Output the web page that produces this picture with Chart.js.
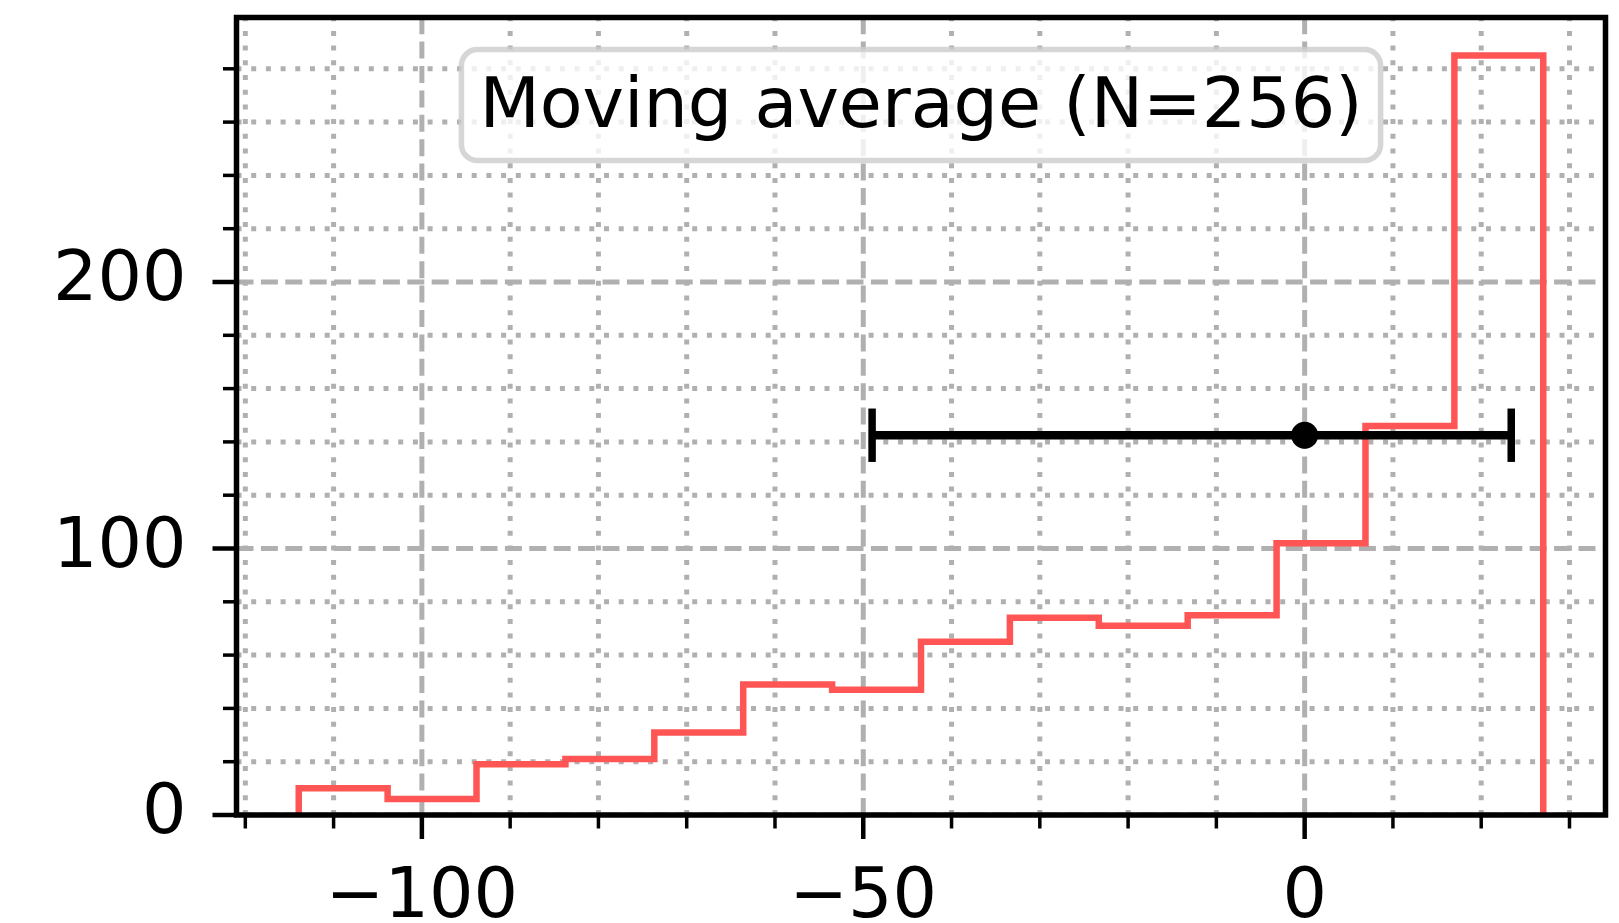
<!DOCTYPE html>
<html>
<head>
<meta charset="utf-8">
<script src="https://cdn.jsdelivr.net/npm/chart.js@4/dist/chart.umd.min.js"></script>
<style>
  html, body { margin: 0; padding: 0; background: #fff; }
  canvas { display: block; }
</style>
</head>
<body>
<canvas id="histChart" width="1619" height="923"></canvas>
<script>
// histogram bins (edges) and counts, drawn as a step outline
const binEdges = [-113.95, -103.88, -93.81, -83.74, -73.67, -63.60, -53.53, -43.46,
                  -33.39, -23.32, -13.25, -3.18, 6.89, 16.96, 27.03];
const binCounts = [10, 6, 19, 21, 31, 49, 47, 65, 74, 71, 75, 102, 146, 285];

// marker with asymmetric horizontal error bar
const errCenterX = [0];
const errCenterY = [142.5];
const errLeft = [49.0];
const errRight = [23.4];

const xMajorTicks = [-100, -50, 0];
const xMinorTicks = [-120, -110, -90, -80, -70, -60, -40, -30, -20, -10, 10, 20, 30];
const yMajorTicks = [0, 100, 200];
const yMinorTicks = [20, 40, 60, 80, 120, 140, 160, 180, 220, 240, 260, 280];

const legendLabel = 'Moving average (N=256)';

const FONT = '"DejaVu Sans", "Liberation Sans", sans-serif';
const GRID = '#b0b0b0';

// outline points: up from zero, across each bin, back down at the end
const stepPoints = [{ x: binEdges[0], y: 0 }];
binCounts.forEach((c, i) => stepPoints.push({ x: binEdges[i], y: c }));
stepPoints.push({ x: binEdges[binEdges.length - 1], y: binCounts[binCounts.length - 1] });
stepPoints.push({ x: binEdges[binEdges.length - 1], y: 0 });

const xSpan = binEdges[binEdges.length - 1] - binEdges[0];
const xMin = binEdges[0] - 0.05 * xSpan;
const xMax = binEdges[binEdges.length - 1] + 0.05 * xSpan;
const yMax = Math.max(...binCounts) * 1.05;

const minusFmt = v => (v < 0 ? '\u2212' + Math.abs(v) : String(v));

const mplAxes = {
    id: 'mplAxes',
    beforeDatasetsDraw(chart) {
        const { ctx, chartArea: a, scales: { x, y } } = chart;
        ctx.save();
        ctx.beginPath();
        ctx.rect(a.left, a.top, a.right - a.left, a.bottom - a.top);
        ctx.clip();
        ctx.strokeStyle = GRID;
        ctx.lineWidth = 5;
        const vLines = (vals, dash) => {
            ctx.setLineDash(dash);
            vals.forEach(v => {
                const px = x.getPixelForValue(v);
                ctx.beginPath(); ctx.moveTo(px, a.bottom); ctx.lineTo(px, a.top); ctx.stroke();
            });
        };
        const hLines = (vals, dash) => {
            ctx.setLineDash(dash);
            vals.forEach(v => {
                const py = y.getPixelForValue(v);
                ctx.beginPath(); ctx.moveTo(a.left, py); ctx.lineTo(a.right, py); ctx.stroke();
            });
        };
        vLines(xMinorTicks, [5, 9.7]);
        hLines(yMinorTicks, [5, 9.7]);
        vLines(xMajorTicks, [17, 7.4]);
        hLines(yMajorTicks, [17, 7.4]);
        ctx.restore();
    },
    afterDatasetsDraw(chart) {
        const { ctx, chartArea: a, scales: { x, y } } = chart;
        ctx.save();
        // error bar caps
        ctx.strokeStyle = '#000';
        ctx.lineWidth = 7.5;
        errCenterX.forEach((cx, i) => {
            const py = y.getPixelForValue(errCenterY[i]);
            [cx - errLeft[i], cx + errRight[i]].forEach(v => {
                const px = x.getPixelForValue(v);
                ctx.beginPath(); ctx.moveTo(px, py - 26.7); ctx.lineTo(px, py + 26.7); ctx.stroke();
            });
        });
        // frame
        ctx.lineWidth = 5.5;
        ctx.lineJoin = 'miter';
        ctx.strokeRect(a.left, a.top, a.right - a.left, a.bottom - a.top);
        // tick marks
        const tick = (vals, len, w, horiz) => {
            ctx.lineWidth = w;
            vals.forEach(v => {
                ctx.beginPath();
                if (horiz) {
                    const px = x.getPixelForValue(v);
                    ctx.moveTo(px, a.bottom); ctx.lineTo(px, a.bottom + len);
                } else {
                    const py = y.getPixelForValue(v);
                    ctx.moveTo(a.left, py); ctx.lineTo(a.left - len, py);
                }
                ctx.stroke();
            });
        };
        tick(xMajorTicks, 24, 4.5, true);
        tick(xMinorTicks, 13.5, 3.5, true);
        tick(yMajorTicks, 24, 4.5, false);
        tick(yMinorTicks, 13.5, 3.5, false);
        ctx.restore();
    },
    afterDraw(chart) {
        // legend box, upper centre
        const { ctx, chartArea: a } = chart;
        ctx.save();
        ctx.font = '70px ' + FONT;
        const tw = ctx.measureText(legendLabel).width;
        const w = tw + 36, h = 111;
        const cx = (a.left + a.right) / 2;
        const top = a.top + 32;
        ctx.beginPath();
        ctx.roundRect(cx - w / 2, top, w, h, 16);
        ctx.fillStyle = 'rgba(255,255,255,0.8)';
        ctx.fill();
        ctx.lineWidth = 5.5;
        ctx.strokeStyle = 'rgba(204,204,204,0.8)';
        ctx.stroke();
        ctx.fillStyle = '#000';
        ctx.textAlign = 'center';
        ctx.textBaseline = 'alphabetic';
        ctx.fillText(legendLabel, cx, top + 77);
        ctx.restore();
    }
};

const ctx = document.getElementById('histChart').getContext('2d');
new Chart(ctx, {
    type: 'scatter',
    data: {
        datasets: [{
            data: stepPoints,
            showLine: true,
            stepped: 'before',
            borderColor: '#ff5555',
            borderWidth: 6.5,
            borderJoinStyle: 'miter',
            pointRadius: 0,
            order: 3
        }, {
            data: errCenterX.flatMap((cx, i) => [
                { x: cx - errLeft[i], y: errCenterY[i] },
                { x: cx + errRight[i], y: errCenterY[i] }
            ]),
            showLine: true,
            borderColor: '#000',
            borderWidth: 8.5,
            pointRadius: 0,
            order: 2
        }, {
            data: errCenterX.map((cx, i) => ({ x: cx, y: errCenterY[i] })),
            showLine: false,
            pointRadius: 13.5,
            pointBackgroundColor: '#000',
            pointBorderWidth: 0,
            order: 1
        }]
    },
    options: {
        responsive: false,
        devicePixelRatio: 1,
        animation: false,
        layout: { padding: { left: 0, top: 17.5, right: 11.5, bottom: 0 } },
        plugins: { legend: { display: false }, tooltip: { enabled: false } },
        scales: {
            x: {
                type: 'linear',
                min: xMin,
                max: xMax,
                grid: { display: false, drawTicks: false },
                border: { display: false },
                afterBuildTicks: s => { s.ticks = xMajorTicks.map(v => ({ value: v })); },
                afterFit: s => { s.height = 108; s.paddingLeft = 0; s.paddingRight = 0; },
                ticks: {
                    color: '#000',
                    font: { family: FONT, size: 70 },
                    padding: 42,
                    maxRotation: 0,
                    autoSkip: false,
                    callback: minusFmt
                }
            },
            y: {
                type: 'linear',
                min: 0,
                max: yMax,
                grid: { display: false, drawTicks: false },
                border: { display: false },
                afterBuildTicks: s => { s.ticks = yMajorTicks.map(v => ({ value: v })); },
                afterFit: s => { s.width = 236.5; s.paddingTop = 0; s.paddingBottom = 0; },
                ticks: {
                    color: '#000',
                    font: { family: FONT, size: 70 },
                    padding: 50,
                    autoSkip: false,
                    callback: minusFmt
                }
            }
        }
    },
    plugins: [mplAxes]
});
</script>
</body>
</html>
